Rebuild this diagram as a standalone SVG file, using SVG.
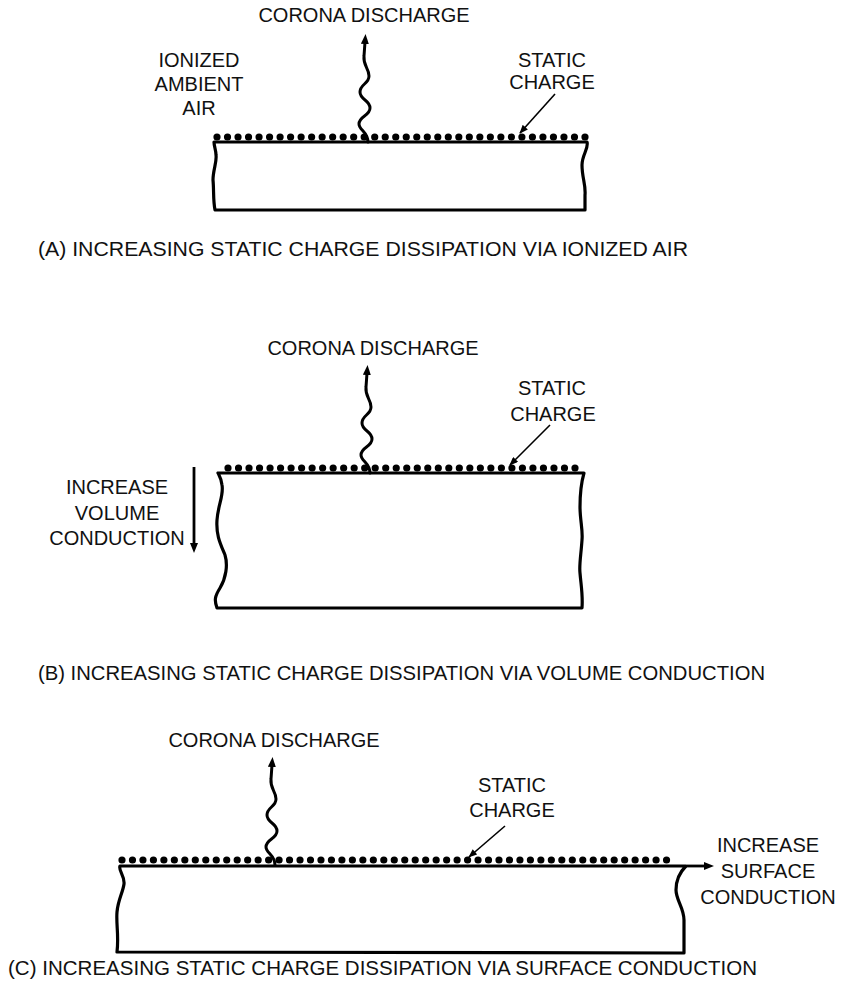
<svg xmlns="http://www.w3.org/2000/svg" width="843" height="992" viewBox="0 0 843 992">
<style>
text{font-family:"Liberation Sans",Arial,sans-serif;font-size:20px;fill:#111}
.lbl{text-anchor:middle}
.cap{font-size:21px}
.slab{fill:none;stroke:#000;stroke-width:3.2;stroke-linejoin:round}
.dots{fill:none;stroke:#000;stroke-width:7.2;stroke-linecap:round}
.wave{fill:none;stroke:#000;stroke-width:3;stroke-linecap:round}
.lead{fill:none;stroke:#000;stroke-width:1.6}
.big{fill:none;stroke:#000;stroke-width:2.8}
</style>
<defs>
<marker id="ah" viewBox="0 0 10 8" refX="2" refY="4" markerWidth="10" markerHeight="8" markerUnits="userSpaceOnUse" orient="auto"><path d="M0,0 L10,4 L0,8 Z"/></marker>
<marker id="ahs" viewBox="0 0 10 8" refX="9" refY="4" markerWidth="10" markerHeight="7" markerUnits="userSpaceOnUse" orient="auto"><path d="M0,0 L10,4 L0,8 Z"/></marker>
<path id="wv" d="M0,0 c0,-10 -9,-12 -9,-18 c0,-8 11,-8 11,-16 c0,-8 -10,-8 -10,-16 c0,-8 9,-8 9,-16 c0,-8 -6,-10 -5,-20 l1,-14"/>
</defs>

<g id="panel-a">
<path class="slab" d="M214,142 L587,142 C589,148 582,155 582,165 C582,178 586,185 585,195 L585,210 L215,210 C213,200 214,190 213,180 C213,170 217,162 216,155 C216,150 214,146 214,142 Z"/>
<line class="dots" x1="217" y1="137" x2="585" y2="137" stroke-dasharray="0 10.514"/>
<text class="lbl" x="364" y="22">CORONA DISCHARGE</text>
<text class="lbl" x="199" y="67">IONIZED</text>
<text class="lbl" x="199" y="91">AMBIENT</text>
<text class="lbl" x="199" y="115">AIR</text>
<text class="lbl" x="552" y="67">STATIC</text>
<text class="lbl" x="552" y="89">CHARGE</text>
<text class="cap" x="38" y="256" textLength="650" lengthAdjust="spacingAndGlyphs">(A) INCREASING STATIC CHARGE DISSIPATION VIA IONIZED AIR</text>
</g>

<g id="panel-b">
<path class="slab" d="M218,473 L584,473 C582,480 580,495 580,507 C580,520 583,530 582,540 C581,555 579,565 580,573 C581,585 583,595 582,608 L217,608 C214,600 215,596 220,588 C226,578 228,565 225,555 C220,543 216,535 217,520 C218,505 224,495 222,485 C221,478 219,475 218,473 Z"/>
<line class="dots" x1="228" y1="468" x2="575" y2="468" stroke-dasharray="0 10.515"/>
<text class="lbl" x="373" y="355">CORONA DISCHARGE</text>
<text class="lbl" x="552" y="395">STATIC</text>
<text class="lbl" x="553" y="421">CHARGE</text>
<text class="lbl" x="117" y="494">INCREASE</text>
<text class="lbl" x="117" y="520">VOLUME</text>
<text class="lbl" x="117" y="545">CONDUCTION</text>
<text class="cap" x="38" y="680" textLength="727" lengthAdjust="spacingAndGlyphs">(B) INCREASING STATIC CHARGE DISSIPATION VIA VOLUME CONDUCTION</text>
</g>

<g id="panel-c">
<path class="slab" d="M686,866 L120,866 C118,870 125,876 124,884 C123,892 118,900 117,912 C116,925 119,935 117,952 L684,953 L684,920 C684,908 676,900 676,890 C676,880 680,872 686,866"/>
<line class="dots" x1="122" y1="860" x2="677" y2="860" stroke-dasharray="0 10.472"/>
<text class="lbl" x="274" y="747">CORONA DISCHARGE</text>
<text class="lbl" x="512" y="792">STATIC</text>
<text class="lbl" x="512" y="817">CHARGE</text>
<text class="lbl" x="768" y="852">INCREASE</text>
<text class="lbl" x="768" y="878">SURFACE</text>
<text class="lbl" x="768" y="904">CONDUCTION</text>
<text class="cap" x="8" y="975" textLength="749" lengthAdjust="spacingAndGlyphs">(C) INCREASING STATIC CHARGE DISSIPATION VIA SURFACE CONDUCTION</text>
</g>

<g id="connectors">
<use href="#wv" class="wave" transform="translate(368,142)" marker-end="url(#ah)"/>
<use href="#wv" class="wave" transform="translate(370,473)" marker-end="url(#ah)"/>
<use href="#wv" class="wave" transform="translate(275,865)" marker-end="url(#ah)"/>
<line class="lead" x1="555" y1="94" x2="520" y2="133" marker-end="url(#ahs)"/>
<line class="lead" x1="550" y1="425" x2="510" y2="465" marker-end="url(#ahs)"/>
<line class="lead" x1="505" y1="826" x2="469" y2="857" marker-end="url(#ahs)"/>
<line class="big" x1="194" y1="467" x2="194" y2="545" marker-end="url(#ah)"/>
<line class="big" x1="686" y1="866" x2="706" y2="866" marker-end="url(#ah)"/>
</g>
</svg>
